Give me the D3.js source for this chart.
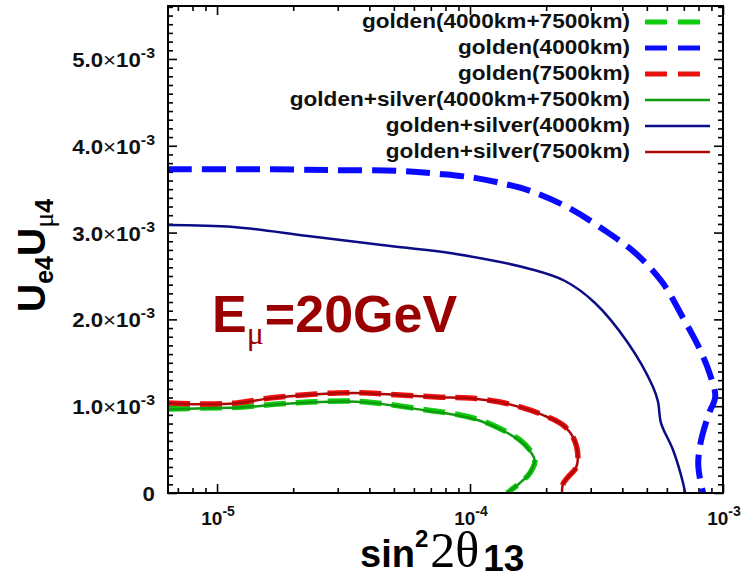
<!DOCTYPE html>
<html>
<head>
<meta charset="utf-8">
<script src="https://cdn.jsdelivr.net/npm/d3@7"></script>
<style>
  body { margin: 0; background: #fff; }
  svg { display: block; }
</style>
</head>
<body>
<svg id="chart" width="746" height="578"></svg>
<script>
// Sensitivity contours in the (sin^2 2θ13, Ue4·Uμ4) plane.
// x values are sin^2 2θ13, y values are Ue4·Uμ4 in units of 10^-3.

const goldenBothX = [6.4e-6, 8.78e-6, 1.264e-5, 1.723e-5, 2.326e-5, 3.26e-5, 3.91e-5, 4.955e-5, 6.753e-5, 9.12e-5, 1.094e-4, 1.349e-4, 1.576e-4, 1.726e-4, 1.806e-4, 1.726e-4, 1.576e-4, 1.40e-4];
const goldenBothY = [0.968, 0.979, 0.991, 1.025, 1.048, 1.060, 1.048, 1.014, 0.956, 0.899, 0.841, 0.726, 0.611, 0.495, 0.380, 0.230, 0.115, 0];

const golden4000X = [6.4e-6, 1.35e-5, 2.79e-5, 5.28e-5, 7.60e-5, 1.046e-4, 1.374e-4, 1.727e-4, 2.419e-4, 3.389e-4, 4.536e-4, 5.747e-4, 6.958e-4, 8.125e-4, 8.90e-4, 9.317e-4, 8.818e-4, 8.20e-4, 7.98e-4, 8.125e-4, 8.35e-4];
const golden4000Y = [3.73, 3.73, 3.72, 3.71, 3.675, 3.63, 3.56, 3.48, 3.295, 3.03, 2.755, 2.43, 2.016, 1.647, 1.359, 1.106, 0.922, 0.611, 0.346, 0.150, 0];

const golden7500X = [6.4e-6, 8.54e-6, 1.196e-5, 1.616e-5, 2.183e-5, 2.975e-5, 3.91e-5, 5.28e-5, 7.40e-5, 9.99e-5, 1.313e-4, 1.576e-4, 1.943e-4, 2.331e-4, 2.553e-4, 2.672e-4, 2.623e-4, 2.44e-4, 2.331e-4, 2.31e-4];
const golden7500Y = [1.037, 1.025, 1.037, 1.094, 1.129, 1.152, 1.152, 1.129, 1.106, 1.094, 1.048, 0.991, 0.899, 0.783, 0.645, 0.415, 0.288, 0.184, 0.104, 0];

const gsBothX = [6.4e-6, 8.78e-6, 1.264e-5, 1.723e-5, 2.326e-5, 3.26e-5, 3.91e-5, 4.955e-5, 6.753e-5, 9.12e-5, 1.094e-4, 1.345e-4, 1.570e-4, 1.720e-4, 1.800e-4, 1.720e-4, 1.570e-4, 1.395e-4];
const gsBothY = [0.962, 0.975, 0.988, 1.020, 1.043, 1.055, 1.044, 1.008, 0.948, 0.890, 0.832, 0.720, 0.606, 0.490, 0.378, 0.228, 0.113, 0];

const gs4000X = [6.4e-6, 1.164e-5, 2.285e-5, 4.482e-5, 8.795e-5, 1.726e-4, 2.374e-4, 3.12e-4, 4.213e-4, 5.29e-4, 5.537e-4, 5.69e-4, 6.348e-4, 6.953e-4, 7.08e-4];
const gs4000Y = [3.088, 3.065, 2.961, 2.857, 2.753, 2.581, 2.442, 2.189, 1.728, 1.221, 1.048, 0.806, 0.495, 0.115, 0];

const gs7500X = [6.4e-6, 8.54e-6, 1.196e-5, 1.616e-5, 2.183e-5, 2.975e-5, 3.91e-5, 5.28e-5, 7.40e-5, 9.99e-5, 1.313e-4, 1.576e-4, 1.943e-4, 2.331e-4, 2.553e-4, 2.668e-4, 2.620e-4, 2.44e-4, 2.331e-4, 2.31e-4];
const gs7500Y = [1.033, 1.022, 1.034, 1.090, 1.126, 1.149, 1.150, 1.127, 1.104, 1.092, 1.046, 0.989, 0.897, 0.781, 0.643, 0.413, 0.286, 0.182, 0.102, 0];

const legendLabels = [
  "golden(4000km+7500km)",
  "golden(4000km)",
  "golden(7500km)",
  "golden+silver(4000km+7500km)",
  "golden+silver(4000km)",
  "golden+silver(7500km)"
];

const yTickValues = [0, 1, 2, 3, 4, 5];   // ×10^-3
const xTickExponents = [-5, -4, -3];

// ---------------------------------------------------------------
const svg = d3.select("#chart");
const W = 746, H = 578;
const plot = { left: 168, right: 723, top: 6, bottom: 493 };

svg.append("rect").attr("width", W).attr("height", H).attr("fill", "#fff");

const x = d3.scaleLog().domain([6.4e-6, 1e-3]).range([plot.left, plot.right]);
const y = d3.scaleLinear().domain([0, 5.61]).range([plot.bottom, plot.top]);

const SANS = "'Liberation Sans', Arial, Helvetica, sans-serif";
const SERIF = "'Liberation Serif', 'Times New Roman', serif";

// series styling, in legend order
const seriesStyle = [
  { xs: goldenBothX, ys: goldenBothY, color: "#10cc10", width: 5.5, dash: "22,10" },
  { xs: golden4000X, ys: golden4000Y, color: "#0a0aff", width: 6,   dash: "24,10" },
  { xs: golden7500X, ys: golden7500Y, color: "#ee1010", width: 5.5, dash: "22,10" },
  { xs: gsBothX,     ys: gsBothY,     color: "#0f9a0f", width: 2.5, dash: null },
  { xs: gs4000X,     ys: gs4000Y,     color: "#0c0c86", width: 2.5, dash: null },
  { xs: gs7500X,     ys: gs7500Y,     color: "#b00808", width: 2.5, dash: null }
];

// clip to the frame
svg.append("defs").append("clipPath").attr("id", "plotClip")
  .append("rect")
  .attr("x", plot.left).attr("y", plot.top)
  .attr("width", plot.right - plot.left).attr("height", plot.bottom - plot.top);

// ---------- ticks (pointing inward on all four sides) ----------
const minorX = [];
for (let e = -6; e <= -4; e++) {
  for (let k = 2; k <= 9; k++) {
    const v = k * Math.pow(10, e);
    if (v >= 6.4e-6 && v <= 1e-3) minorX.push(v);
  }
}
const majorX = xTickExponents.map(e => Math.pow(10, e));
const minorY = d3.range(1, 57).map(i => i / 10).filter(v => Math.abs(v - Math.round(v)) > 1e-6 && v <= 5.61);

const MAJ = 9, MIN = 5;
function styleAxis(g) {
  g.select(".domain").remove();
  g.selectAll("line").attr("stroke", "#000").attr("stroke-width", 1.6);
  g.selectAll("text").remove();
}
svg.append("g").attr("transform", `translate(0,${plot.bottom})`)
  .call(d3.axisBottom(x).tickValues(majorX).tickSize(-MAJ).tickFormat("")).call(styleAxis);
svg.append("g").attr("transform", `translate(0,${plot.bottom})`)
  .call(d3.axisBottom(x).tickValues(minorX).tickSize(-MIN).tickFormat("")).call(styleAxis);
svg.append("g").attr("transform", `translate(0,${plot.top})`)
  .call(d3.axisTop(x).tickValues(majorX).tickSize(-MAJ).tickFormat("")).call(styleAxis);
svg.append("g").attr("transform", `translate(0,${plot.top})`)
  .call(d3.axisTop(x).tickValues(minorX).tickSize(-MIN).tickFormat("")).call(styleAxis);
svg.append("g").attr("transform", `translate(${plot.left},0)`)
  .call(d3.axisLeft(y).tickValues(yTickValues).tickSize(-MAJ).tickFormat("")).call(styleAxis);
svg.append("g").attr("transform", `translate(${plot.left},0)`)
  .call(d3.axisLeft(y).tickValues(minorY).tickSize(-MIN).tickFormat("")).call(styleAxis);
svg.append("g").attr("transform", `translate(${plot.right},0)`)
  .call(d3.axisRight(y).tickValues(yTickValues).tickSize(-MAJ).tickFormat("")).call(styleAxis);
svg.append("g").attr("transform", `translate(${plot.right},0)`)
  .call(d3.axisRight(y).tickValues(minorY).tickSize(-MIN).tickFormat("")).call(styleAxis);

// ---------- curves ----------
const line = d3.line()
  .x(d => x(d[0]))
  .y(d => y(d[1]))
  .curve(d3.curveCatmullRom.alpha(0.5));

const drawOrder = [0, 2, 3, 5, 1, 4];
const curves = svg.append("g").attr("clip-path", "url(#plotClip)");
drawOrder.forEach(i => {
  const s = seriesStyle[i];
  const pts = s.xs.map((v, j) => [v, s.ys[j]]);
  curves.append("path")
    .attr("d", line(pts))
    .attr("fill", "none")
    .attr("stroke", s.color)
    .attr("stroke-width", s.width)
    .attr("stroke-linejoin", "round")
    .attr("stroke-dasharray", s.dash);
});

// ---------- frame ----------
svg.append("rect")
  .attr("x", plot.left).attr("y", plot.top)
  .attr("width", plot.right - plot.left).attr("height", plot.bottom - plot.top)
  .attr("fill", "none").attr("stroke", "#000").attr("stroke-width", 2);

// ---------- y tick labels ----------
yTickValues.forEach(v => {
  const t = svg.append("text")
    .attr("transform", `translate(155,${y(v) + 8}) scale(1.06,1)`)
    .attr("text-anchor", "end")
    .attr("font-family", SANS).attr("font-weight", "bold").attr("font-size", 21)
    .attr("fill", "#111");
  if (v === 0) {
    t.text("0");
  } else {
    t.append("tspan").text(v.toFixed(1));
    t.append("tspan").attr("font-weight", "normal").text("×");
    t.append("tspan").text("10");
    t.append("tspan").attr("font-size", 15).attr("dy", -9).text("-3");
  }
});

// ---------- x tick labels ----------
xTickExponents.forEach(e => {
  const t = svg.append("text")
    .attr("x", x(Math.pow(10, e)) + 1).attr("y", 525)
    .attr("text-anchor", "middle")
    .attr("font-family", SANS).attr("font-weight", "bold").attr("font-size", 19)
    .attr("fill", "#111");
  t.append("tspan").text("10");
  t.append("tspan").attr("font-size", 14).attr("dy", -9).text(String(e));
});

// ---------- axis titles ----------
const xt = svg.append("text")
  .attr("x", 360).attr("y", 567)
  .attr("font-family", SANS).attr("font-weight", "bold").attr("font-size", 38)
  .attr("fill", "#000");
xt.append("tspan").text("sin");
xt.append("tspan").attr("font-size", 24).attr("dy", -20).text("2");
xt.append("tspan").attr("font-family", SERIF).attr("font-weight", "normal")
  .attr("font-size", 50).attr("dy", 20).attr("dx", 2).text("2θ");
xt.append("tspan").attr("font-size", 37).attr("dy", 4).attr("dx", 4).text("13");

const yt = svg.append("text")
  .attr("transform", "translate(45,312) rotate(-90)")
  .attr("font-family", SANS).attr("font-weight", "bold").attr("font-size", 39)
  .attr("fill", "#000");
yt.append("tspan").text("U");
yt.append("tspan").attr("font-size", 25).attr("dy", 8).text("e4");
yt.append("tspan").attr("dy", -8).text("U");
yt.append("tspan").attr("font-family", SERIF).attr("font-weight", "normal")
  .attr("font-size", 28).attr("dy", 8).text("μ");
yt.append("tspan").attr("font-size", 25).text("4");

// ---------- energy annotation ----------
const en = svg.append("text")
  .attr("x", 212).attr("y", 332)
  .attr("font-family", SANS).attr("font-weight", "bold").attr("font-size", 52)
  .attr("fill", "#9b0000");
en.append("tspan").text("E");
en.append("tspan").attr("font-family", SERIF).attr("font-weight", "normal")
  .attr("font-size", 32).attr("dy", 12).text("μ");
en.append("tspan").attr("dy", -12).attr("dx", 1).text("=20GeV");

// ---------- legend ----------
const legend = svg.append("g");
legendLabels.forEach((label, i) => {
  const s = seriesStyle[i];
  const cy = 22 + 26 * i;
  legend.append("text")
    .attr("transform", `translate(630,${cy + 6}) scale(1.13,1)`)
    .attr("text-anchor", "end")
    .attr("font-family", SANS).attr("font-weight", "bold").attr("font-size", 20)
    .attr("fill", "#111")
    .text(label);
  legend.append("line")
    .attr("x1", 645).attr("x2", s.dash ? 700 : 710)
    .attr("y1", cy).attr("y2", cy)
    .attr("stroke", s.color)
    .attr("stroke-width", s.dash ? 5 : 2.5)
    .attr("stroke-dasharray", s.dash ? "22,11" : null);
});
</script>
</body>
</html>
